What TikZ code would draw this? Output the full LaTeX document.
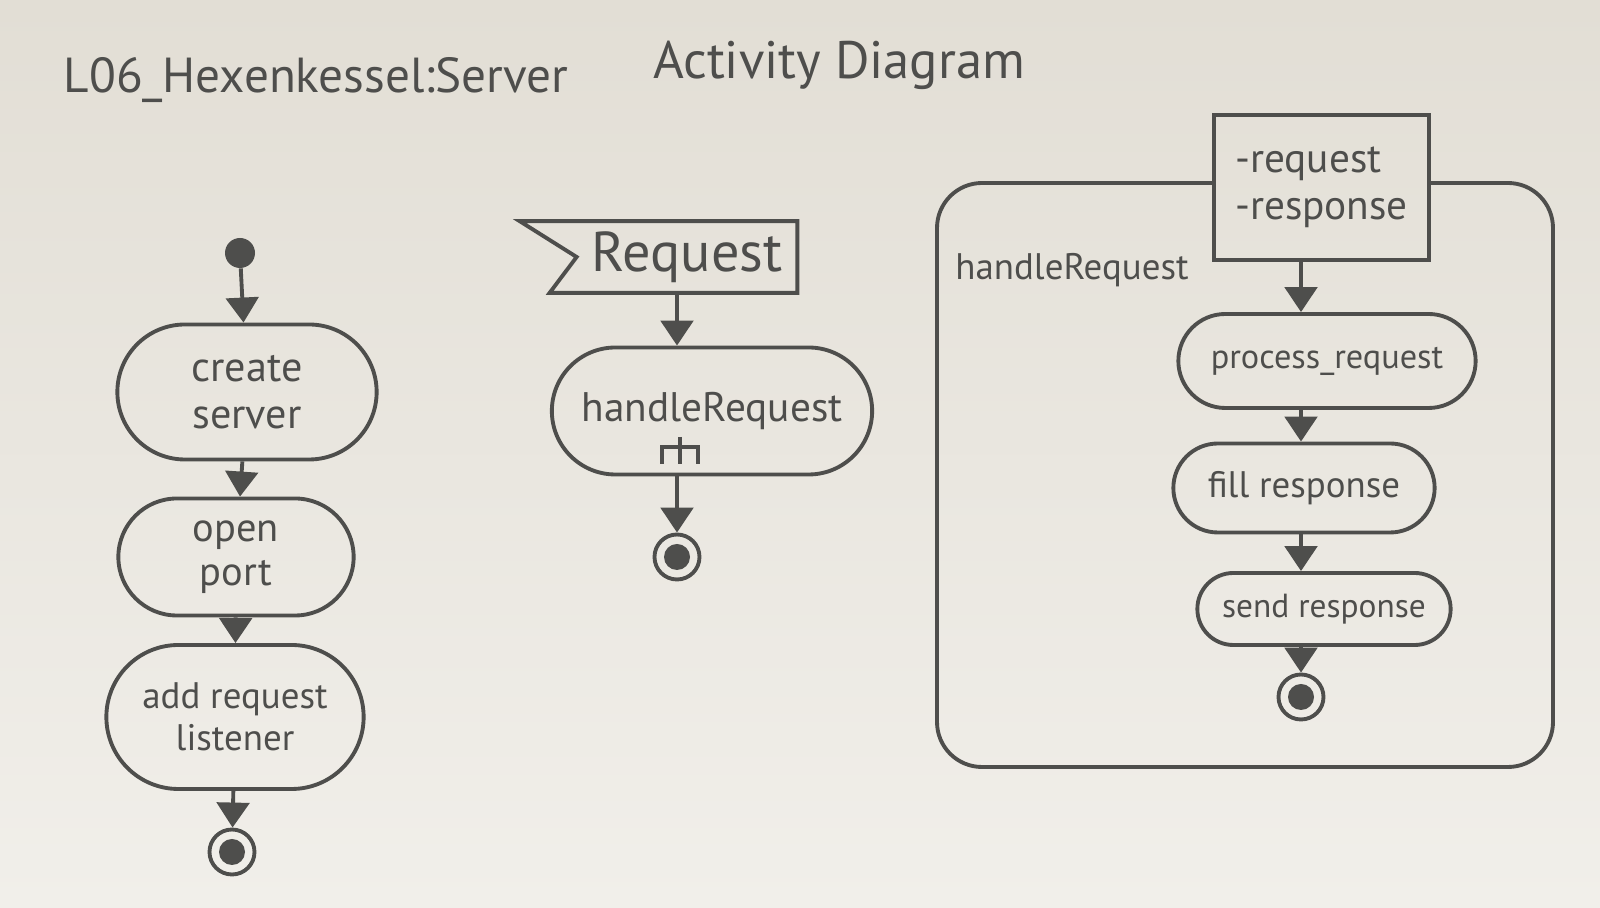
\documentclass[tikz,border=0pt]{standalone}
\usepackage{fontspec}
\setmainfont{PT Sans}
\usetikzlibrary{shapes.misc, arrows.meta, calc}
\definecolor{papertop}{RGB}{226,222,213}
\definecolor{paperbottom}{RGB}{241,239,234}
\definecolor{inkcolor}{RGB}{78,78,76}

\begin{document}
\begin{tikzpicture}[
    inkline/.style={draw=inkcolor, line width=2.2pt},
    actionbox/.style={inkline, rounded rectangle, align=center, text=inkcolor, font=\fontsize{21}{24}\selectfont},
    flowarrow/.style={inkline, -{Triangle[width=6.5mm,length=5mm]}},
    initnode/.style={circle, fill=inkcolor, minimum size=6mm, inner sep=0pt},
    finalnode/.style={circle, inkline, minimum size=9mm, inner sep=0pt,
        path picture={\fill[inkcolor] (path picture bounding box.center) circle (2.6mm);}}
]
    % Papier
    \useasboundingbox (0,0) rectangle (32,18.16);
    \shade[top color=papertop, bottom color=paperbottom] (0,0) rectangle (32,18.16);

    % Titre
    \node[font=\fontsize{28}{30}\selectfont, text=inkcolor] (title) at (6.32,16.56) {L06\_Hexenkessel:Server};
    \node[font=\fontsize{30}{32}\selectfont, text=inkcolor] (subtitle) at (16.78,16.85) {Activity Diagram};

    % === Colonne gauche (server) ===
    \node[initnode] (start) at (4.80,13.10) {};
    \node[actionbox, minimum width=5.42cm, minimum height=2.70cm, font=\fontsize{24}{27}\selectfont] (create) at (4.94,10.32) {create\\server};
    \node[actionbox, minimum width=4.94cm, minimum height=2.34cm, font=\fontsize{23}{25}\selectfont] (open) at (4.72,7.02) {open\\port};
    \node[actionbox, minimum width=5.38cm, minimum height=2.88cm] (listener) at (4.70,3.82) {add request\\listener};
    \node[finalnode] (end1) at (4.64,1.12) {};

    \draw[flowarrow] (start) -- (create);
    \draw[flowarrow] (create) -- (open);
    \draw[flowarrow] (open) -- (listener);
    \draw[flowarrow] (listener) -- (end1);

    % === Colonne milieu (signal Request) ===
    \node[font=\fontsize{32}{34}\selectfont, text=inkcolor, minimum width=4.4cm, minimum height=1.42cm, inner sep=0pt] (req) at (13.74,13.02) {Request};
    \draw[inkline] ($(req.north west)+(-1.14,0)$) -- (req.north east) -- (req.south east)
        -- ($(req.south west)+(-0.54,0)$) -- (req.west) -- cycle;

    \node[actionbox, minimum width=6.64cm, minimum height=2.54cm, font=\fontsize{23.5}{26}\selectfont] (hr) at (14.24,9.94) {handleRequest};
    % rake
    \draw[inkline] ($(hr.center)+(-0.64,-0.52)$) -- ($(hr.center)+(-0.64,-1.06)$);
    \draw[inkline] ($(hr.center)+(-1.0,-1.06)$) -- ++(0,0.34) -- ++(0.72,0) -- ++(0,-0.34);

    \node[finalnode] (end2) at (13.54,7.02) {};

    \draw[flowarrow] (req.south -| end2) -- (hr.north -| end2);
    \draw[flowarrow] (hr.south -| end2) -- (end2);

    % === Colonne droite (handleRequest) ===
    \coordinate (ftop) at (0,14.5);
    \node[inkline, minimum width=4.30cm, minimum height=2.90cm, align=left, text=inkcolor, font=\fontsize{23.5}{27}\selectfont] (pins) at (26.43,14.41) {-request\\-response};
    \draw[inkline, rounded corners=9mm] (pins.west |- ftop) -- (18.74,14.5) -- (18.74,2.82)
        -- (31.06,2.82) -- (31.06,14.5) -- (pins.east |- ftop);
    \node[font=\fontsize{21}{23}\selectfont, text=inkcolor] (hrlabel) at (21.44,12.75) {handleRequest};

    \node[actionbox, minimum width=6.18cm, minimum height=1.88cm, font=\fontsize{19.5}{22}\selectfont] (process) at (26.54,10.94) {process\_request};
    \node[actionbox, minimum width=5.46cm, minimum height=1.78cm] (fill) at (26.08,8.40) {fill response};
    \node[actionbox, minimum width=5.30cm, minimum height=1.44cm, font=\fontsize{19}{21}\selectfont] (send) at (26.48,5.98) {send response};
    \node[finalnode] (end3) at (26.02,4.22) {};

    \draw[flowarrow] (pins.south -| end3) -- (process.north -| end3);
    \draw[flowarrow] (process.south -| end3) -- (fill.north -| end3);
    \draw[flowarrow] (fill.south -| end3) -- (send.north -| end3);
    \draw[flowarrow] (send.south -| end3) -- (end3);
\end{tikzpicture}
\end{document}
